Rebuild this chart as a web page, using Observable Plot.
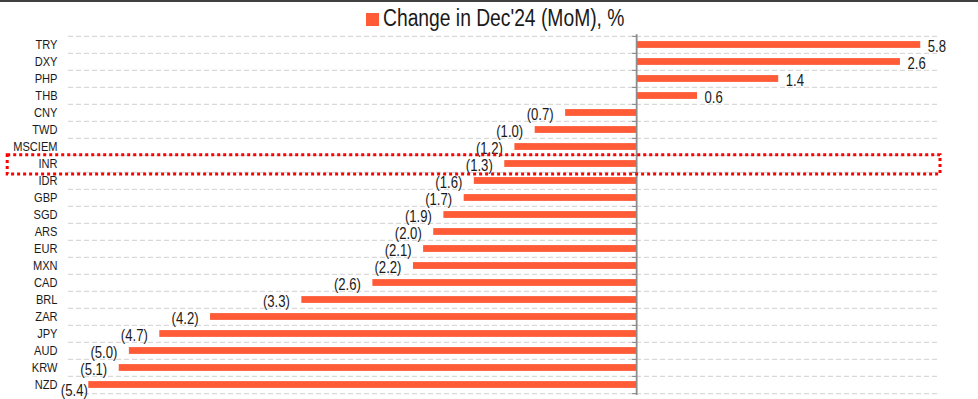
<!DOCTYPE html>
<html>
<head>
<meta charset="utf-8">
<script src="https://cdn.jsdelivr.net/npm/d3@7"></script>
<script src="https://cdn.jsdelivr.net/npm/@observablehq/plot@0.6"></script>
<style>
  html, body { margin: 0; padding: 0; background: #fff; }
  #wrap { width: 978px; height: 399px; overflow: hidden; background: #fff; }
  #head { position: relative; height: 32px; box-sizing: border-box; border-top: 2px solid #404040; }
  #swatch { position: absolute; left: 366px; top: 11.3px; width: 13px; height: 13px; }
  #title { position: absolute; left: 383px; top: 4.6px; font-size: 23.5px; line-height: 1; color: #1a1a1a; white-space: nowrap; transform: scaleX(0.82); transform-origin: 0 0; }
  .nf { font-family: "Liberation Sans Narrow", "Arial Narrow", "Liberation Sans", Arial, sans-serif; }
  svg { display: block; }
</style>
</head>
<body>
<div id="wrap">
  <div id="head"><span id="swatch"></span><span id="title" class="nf"></span></div>
  <div id="chart"></div>
</div>
<script>
// ---- data ----
const titleText = "Change in Dec'24 (MoM), %";
const categories = ["TRY","DXY","PHP","THB","CNY","TWD","MSCIEM","INR","IDR","GBP","SGD","ARS","EUR","MXN","CAD","BRL","ZAR","JPY","AUD","KRW","NZD"];
const values = [5.8, 2.6, 1.4, 0.6, -0.7, -1.0, -1.2, -1.3, -1.6, -1.7, -1.9, -2.0, -2.1, -2.2, -2.6, -3.3, -4.2, -4.7, -5.0, -5.1, -5.4];
const highlighted = ["INR"];

// ---- settings ----
const barColor = "#FF5B37";
const textColor = "#1a1a1a";
const fontStack = "'Liberation Sans Narrow', 'Arial Narrow', 'Liberation Sans', Arial, sans-serif";
const narrow = 0.82; // horizontal squeeze to mimic a narrow typeface
const xDomain = [-5.6, 2.985];
const xCap = 2.8; // axis break: bars beyond this are truncated in the original chart
const W = 978, H = 367, mTop = 2.3, mBottom = 4, mLeft = 68, mRight = 39;
const step = (H - mTop - mBottom) / categories.length;

document.getElementById("swatch").style.background = barColor;
document.getElementById("title").textContent = titleText;

const rows = categories.map((c, i) => ({cat: c, value: values[i]}));
const fmt = v => v < 0 ? `(${Math.abs(v).toFixed(1)})` : v.toFixed(1);
const last = categories[categories.length - 1];
const isLast = d => d.cat === last;

const gridStyle = {stroke: "#d9d9d9", strokeWidth: 1.3, strokeDasharray: "5,3"};
const tickStyle = {stroke: "#8c8c8c", strokeWidth: 1.2};
const labelStyle = {fontSize: 16, fill: textColor};

const chart = Plot.plot({
  width: W, height: H,
  marginTop: mTop, marginBottom: mBottom, marginLeft: mLeft, marginRight: mRight,
  style: {fontFamily: fontStack, color: textColor, background: "#fff", overflow: "visible"},
  x: {domain: xDomain, axis: null},
  y: {domain: categories, padding: 0, label: null},
  marks: [
    Plot.axisY({tickSize: 0, tickPadding: 11, fontSize: 13.5, fill: textColor, label: null}),
    // dashed gridlines at category boundaries
    Plot.ruleY(categories, {y: d => d, dy: -step / 2, ...gridStyle}),
    Plot.ruleY([last], {y: d => d, dy: step / 2, ...gridStyle}),
    // bars
    Plot.barX(rows, {y: "cat", x1: () => 0, x2: d => Math.min(d.value, xCap), fill: barColor, insetTop: 5.1, insetBottom: 5.1}),
    // value labels
    Plot.text(rows.filter(d => d.value >= 0), {y: "cat", x: d => Math.min(d.value, xCap), text: d => fmt(d.value), textAnchor: "start", dx: 7, dy: 1.5, ...labelStyle}),
    Plot.text(rows.filter(d => d.value < 0 && !isLast(d)), {y: "cat", x: "value", text: d => fmt(d.value), textAnchor: "end", dx: -12, dy: 1.5, ...labelStyle}),
    Plot.text(rows.filter(isLast), {y: "cat", x: "value", text: d => fmt(d.value), textAnchor: "end", dx: -1, dy: 6, ...labelStyle}),
    // zero axis and its ticks
    Plot.ruleX([0], {stroke: "#8c8c8c", strokeWidth: 1.8}),
    Plot.ruleY(categories, {y: d => d, x1: () => 0, x2: () => 0, insetLeft: -4, dy: -step / 2, ...tickStyle}),
    Plot.ruleY([last], {y: d => d, x1: () => 0, x2: () => 0, insetLeft: -4, dy: step / 2, ...tickStyle}),
    // highlight box
    Plot.barX(highlighted, {y: d => d, x1: () => xDomain[0], x2: () => xDomain[1], insetLeft: -60.8, insetRight: -1, insetTop: -0.3, insetBottom: -2, fill: "none", stroke: "#ff0000", strokeWidth: 3, strokeDasharray: "3,3"})
  ]
});
document.getElementById("chart").appendChild(chart);

// squeeze SVG text horizontally to imitate the narrow typeface of the original
chart.querySelectorAll("text").forEach(t => {
  const w = t.getComputedTextLength();
  if (w > 0) {
    t.setAttribute("textLength", (w * narrow).toFixed(2));
    t.setAttribute("lengthAdjust", "spacingAndGlyphs");
  }
});
</script>
</body>
</html>
